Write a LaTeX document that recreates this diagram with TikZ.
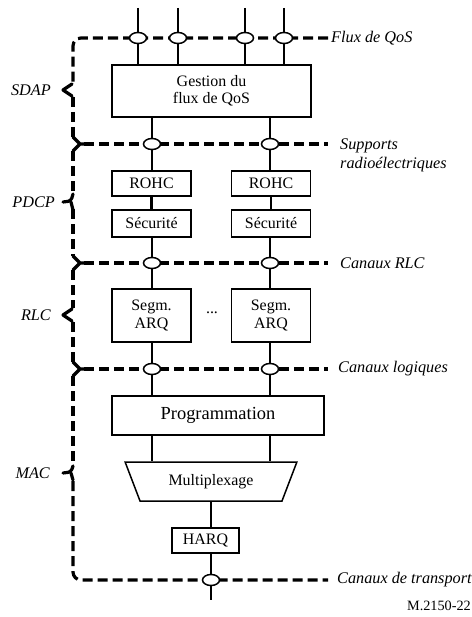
\documentclass[tikz,border=0pt]{standalone}
\usepackage{fontspec}
\setmainfont{Liberation Serif}
\usetikzlibrary{shapes.geometric}
\begin{document}
\begin{tikzpicture}[x=1bp,y=-1bp,
  box/.style={draw,line width=1.5bp,fill=white,inner sep=0pt,align=center,font=\fontsize{16}{17.5}\selectfont},
  pt/.style={draw,ellipse,line width=1.5bp,fill=white,minimum width=17bp,minimum height=11bp,inner sep=0pt},
  ln/.style={line width=2.2bp},
  dsh/.style={line width=3.2bp,dash pattern=on 10bp off 5bp},
  tip/.style={line width=3.2bp,line join=round,line cap=round},
  lab/.style={inner sep=0pt,font=\fontsize{16.3}{19}\selectfont\itshape},
]
\useasboundingbox (0,0) rectangle (472,617);
% boxes
\node[box,minimum width=199bp,minimum height=52bp] (g) at (211.5,91) {Gestion du\\flux de QoS};
\node[box,minimum width=79bp,minimum height=25bp] (r1) at (151.5,183.5) {ROHC};
\node[box,minimum width=79bp,minimum height=25bp] (r2) at (271,183.5) {ROHC};
\node[box,minimum width=79bp,minimum height=27bp] (s1) at (151.5,223.5) {Sécurité};
\node[box,minimum width=79bp,minimum height=27bp] (s2) at (271,223.5) {Sécurité};
\node[box,minimum width=79bp,minimum height=53bp] (a1) at (151.5,315.5) {Segm.\\ARQ};
\node[box,minimum width=79bp,minimum height=53bp] (a2) at (271,315.5) {Segm.\\ARQ};
\node[inner sep=0pt,font=\fontsize{16}{17.5}\selectfont] (dots) at (212,313) {...};
\node[box,minimum width=212bp,minimum height=39bp,font=\fontsize{18.5}{20}\selectfont] (p) at (218,415.5) {Programmation};
\node[box,trapezium,shape border rotate=180,trapezium stretches=true,trapezium left angle=58.4,trapezium right angle=58.4,minimum width=172bp,minimum height=39bp] (mux) at (211,481.5) {Multiplexage};
\node[box,minimum width=67bp,minimum height=25bp] (h) at (205.5,540.5) {HARQ};
% free ends
\coordinate (t1) at (138,8);
\coordinate (t2) at (178,8);
\coordinate (t3) at (245,8);
\coordinate (t4) at (284,8);
\coordinate (bt) at (211,600);
% vertical connectors
\foreach \i in {1,2,3,4} {\draw[ln] (t\i) -- (t\i |- g.north);}
\draw[ln] (g.south -| 152,0) -- (r1.north -| 152,0);
\draw[ln] (g.south -| 270,0) -- (r2.north -| 270,0);
\draw[ln] (r1) -- (s1);
\draw[ln] (r2) -- (s2);
\draw[ln] (s1.south -| 152,0) -- (a1.north -| 152,0);
\draw[ln] (s2.south -| 270,0) -- (a2.north -| 270,0);
\draw[ln] (a1.south -| 152,0) -- (p.north -| 152,0);
\draw[ln] (a2.south -| 270,0) -- (p.north -| 270,0);
\draw[ln] (p.south -| 152,0) -- (mux.north -| 152,0);
\draw[ln] (p.south -| 270,0) -- (mux.north -| 270,0);
\draw[ln] (mux.south -| bt) -- (h.north -| bt);
\draw[ln] (h.south -| bt) -- (bt);
% dashed layer lines and braces
\draw[dsh,rounded corners=8bp] (328,38) -- (73,38) -- (73,84);
\draw[dsh] (73,97) -- (73,137);
\draw[dsh] (73,151) -- (73,195);
\draw[dsh] (73,209) -- (73,256);
\draw[dsh] (73,270) -- (73,308);
\draw[dsh] (73,322) -- (73,362);
\draw[dsh] (73,376) -- (73,466);
\draw[dsh,rounded corners=8bp] (73,481) -- (73,580) -- (328,580);
\draw[dsh] (84,144) -- (328,144);
\draw[dsh] (84,263) -- (328,263);
\draw[dsh] (84,369) -- (328,369);
% brace tips and junctions
\draw[tip] (72,84) -- (63,90) -- (72,96);
\draw[tip] (73,137) -- (80,144) -- (73,151) (80,144) -- (88,144);
\draw[tip,rounded corners=3bp] (73,194) -- (71,201) -- (63,202) (71,202) -- (73,210);
\draw[tip] (73,256) -- (80,263) -- (73,270) (80,263) -- (88,263);
\draw[tip] (72,309) -- (63,315) -- (72,321);
\draw[tip] (73,362) -- (80,369) -- (73,376) (80,369) -- (88,369);
\draw[tip,rounded corners=3bp] (73,466) -- (71,472) -- (63,473) (71,473) -- (73,480);
% ellipses
\node[pt] (f1) at (138,38) {};
\node[pt] (f2) at (178,38) {};
\node[pt] (f3) at (245,38) {};
\node[pt] (f4) at (284,38) {};
\node[pt] (sb1) at (152,144) {};
\node[pt] (sb2) at (270,144) {};
\node[pt] (rl1) at (152,263) {};
\node[pt] (rl2) at (270,263) {};
\node[pt] (lg1) at (152,369) {};
\node[pt] (lg2) at (270,369) {};
\node[pt] (tr) at (211,580) {};
% labels
\node[lab,anchor=west] (lf) at (331,38) {Flux de QoS};
\node[lab,anchor=north west,align=left] (ls) at (340,138.5) {Supports\\radioélectriques};
\node[lab,anchor=west] (lr) at (340,263) {Canaux RLC};
\node[lab,anchor=west] (ll) at (338,369) {Canaux logiques};
\node[lab,anchor=west] (lt) at (337,580) {Canaux de transport};
\node[lab,anchor=east] (sd) at (51,90) {SDAP};
\node[lab,anchor=east] (pd) at (55,202) {PDCP};
\node[lab,anchor=east] (rc) at (51,315) {RLC};
\node[lab,anchor=east] (mc) at (50,473) {MAC};
\node[inner sep=0pt,anchor=east,font=\fontsize{14.3}{16}\selectfont] (ref) at (471,606) {M.2150-22};
\end{tikzpicture}
\end{document}
